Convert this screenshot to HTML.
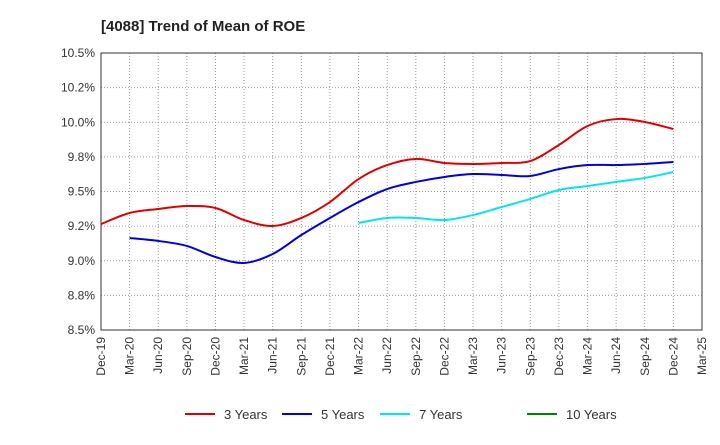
<!DOCTYPE html>
<html><head><meta charset="utf-8"><style>
body{margin:0;background:#fff;font-family:"Liberation Sans",Arial,sans-serif}
svg text{font-family:"Liberation Sans",Arial,sans-serif;fill:#333}
</style></head><body>
<svg id="c" width="720" height="440" xmlns="http://www.w3.org/2000/svg">
<text x="101" y="31" font-size="15" font-weight="bold" style="fill:#222">[4088]  Trend of Mean of ROE</text>
<g id="grid"></g><g id="axes"></g><g id="series"></g><g id="legend"></g>
</svg>
<script>
const xLabels=["Dec-19","Mar-20","Jun-20","Sep-20","Dec-20","Mar-21","Jun-21","Sep-21","Dec-21","Mar-22","Jun-22","Sep-22","Dec-22","Mar-23","Jun-23","Sep-23","Dec-23","Mar-24","Jun-24","Sep-24","Dec-24","Mar-25"];
const yTicks=[8.5,8.75,9.0,9.25,9.5,9.75,10.0,10.25,10.5];
const yTickLabels=["8.5%","8.8%","9.0%","9.2%","9.5%","9.8%","10.0%","10.2%","10.5%"];
const s3=[9.265,9.345,9.374,9.395,9.381,9.294,9.251,9.309,9.424,9.590,9.691,9.735,9.706,9.699,9.706,9.720,9.836,9.973,10.023,10.002,9.951];
const s5=[null,9.164,9.143,9.107,9.027,8.984,9.049,9.186,9.309,9.424,9.518,9.569,9.605,9.626,9.619,9.612,9.662,9.691,9.691,9.699,9.713];
const s7=[null,null,null,null,null,null,null,null,null,9.273,9.309,9.309,9.294,9.330,9.388,9.446,9.511,9.540,9.569,9.598,9.641];
const s10=[];
const L=101,R=702,T=53,B=330;
const xs=i=>L+(R-L)*i/(xLabels.length-1);
const ys=v=>B-(v-8.5)/2*(B-T);
const NS="http://www.w3.org/2000/svg";
function mk(p,t,a){const e=document.createElementNS(NS,t);for(const k in a)e.setAttribute(k,a[k]);p.appendChild(e);return e;}
const grid=document.getElementById('grid'),axes=document.getElementById('axes'),ser=document.getElementById('series'),leg=document.getElementById('legend');
yTicks.forEach((v,i)=>{
 const l=mk(grid,'line',{x1:L,x2:R,y1:ys(v),y2:ys(v),stroke:'#999','stroke-dasharray':'1,2','stroke-width':1});
 
 
 const t=mk(axes,'text',{x:L-6,y:ys(v)+4,'font-size':12,'text-anchor':'end'});t.textContent=yTickLabels[i];
 
 
});
xLabels.forEach((s,i)=>{
 const l=mk(grid,'line',{x1:xs(i),x2:xs(i),y1:T,y2:B,stroke:'#999','stroke-dasharray':'1,2','stroke-width':1});
 
 
 const t=mk(axes,'text',{x:0,y:0,'font-size':12,'text-anchor':'end',transform:`translate(${xs(i)+4},${B+7}) rotate(-90)`});t.textContent=s;
 
 
});
const fr=mk(axes,'rect',{x:L,y:T,width:R-L,height:B-T,fill:'none',stroke:'#333','stroke-width':1});


function path(arr){
 const p=[];arr.forEach((v,i)=>{if(v!=null)p.push([xs(i),ys(v)]);});
 if(p.length<2)return '';
 let d=`M${p[0][0]},${p[0][1]}`;
 for(let i=0;i<p.length-1;i++){
  const p0=p[i-1]||p[i],p1=p[i],p2=p[i+1],p3=p[i+2]||p2;
  d+=` C${p1[0]+(p2[0]-p0[0])/6},${p1[1]+(p2[1]-p0[1])/6} ${p2[0]-(p3[0]-p1[0])/6},${p2[1]-(p3[1]-p1[1])/6} ${p2[0]},${p2[1]}`;
 }return d;
}
const series=[[s3,'#e00000','3 Years',185],[s5,'#0000e0','5 Years',282],[s7,'#00e5ee','7 Years',380],[s10,'#008000','10 Years',527]];
series.forEach(([a,c,n,lx])=>{
 const d=path(a);
 if(d){const p=mk(ser,'path',{d:d,fill:'none',stroke:c,'stroke-width':2});
 
 }
 const ll=mk(leg,'line',{x1:lx,x2:lx+30,y1:414,y2:414,stroke:c,'stroke-width':2});
 
 
 const t=mk(leg,'text',{x:lx+39,y:419,'font-size':13});t.textContent=n;
 
 
});
</script>
</body></html>
